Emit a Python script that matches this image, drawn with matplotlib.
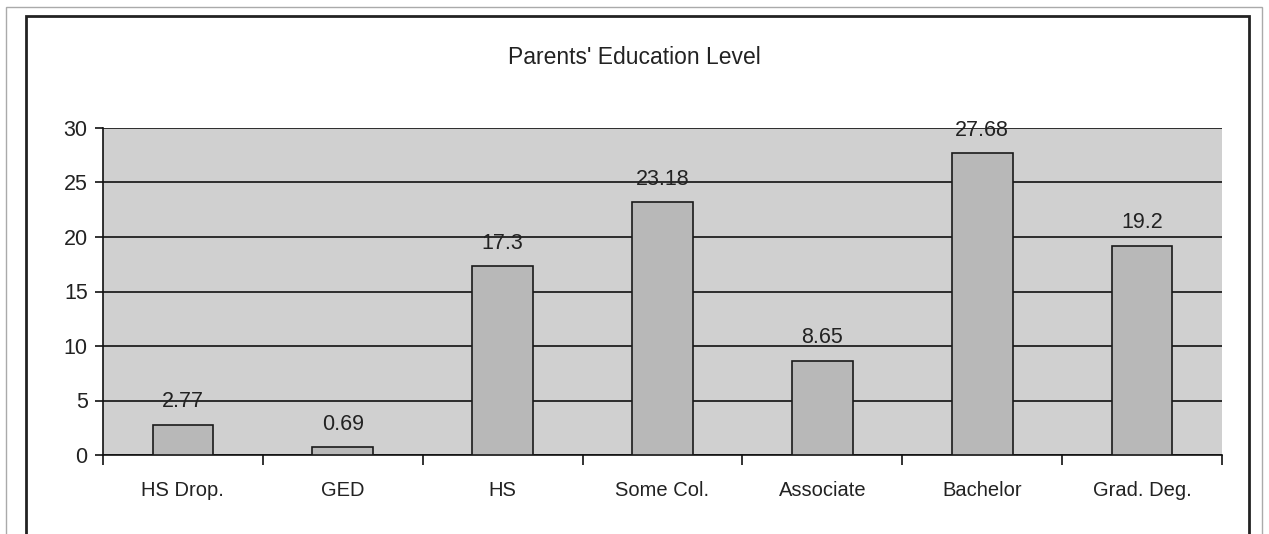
import matplotlib.pyplot as plt
import matplotlib.patches as patches
import numpy as np

plt.rcParams['font.family'] = ['Liberation Sans', 'DejaVu Sans']

categories = ['HS Drop.', 'GED', 'HS', 'Some Col.', 'Associate', 'Bachelor', 'Grad. Deg.']
values = [2.77, 0.69, 17.3, 23.18, 8.65, 27.68, 19.2]
labels = ['2.77', '0.69', '17.3', '23.18', '8.65', '27.68', '19.2']
yticks = [0, 5, 10, 15, 20, 25, 30]

fig = plt.figure(figsize=(12.69, 5.34), dpi=100)
fig.patch.set_facecolor('white')

# chart border (Excel style)
fig.patches.append(patches.Rectangle((26 / 1269, -0.05), (1249 - 26) / 1269, 1 - 16 / 534 + 0.05,
                                     transform=fig.transFigure, fill=False,
                                     edgecolor='#222222', linewidth=2))
fig.patches.append(patches.Rectangle((6 / 1269, -0.05), (1262 - 6) / 1269, 1 - 7 / 534 + 0.05,
                                     transform=fig.transFigure, fill=False,
                                     edgecolor='#aaaaaa', linewidth=1))

ax = fig.add_axes([103 / 1269, 1 - 455 / 534, (1222 - 103) / 1269, (455 - 128) / 534])
ax.set_facecolor('#d0d0d0')

x = np.arange(len(categories))
ax.bar(x, values, width=0.38, color='#b8b8b8', edgecolor='#1a1a1a', linewidth=1.2, zorder=3)

# value labels above the bars
for xi, v, lab in zip(x, values, labels):
    ax.annotate(lab, (xi, v), xytext=(0, 9), textcoords='offset points',
                ha='center', va='bottom', fontsize=15.5, color='#222222', zorder=4)

ax.set_xlim(-0.5, len(categories) - 0.5)
ax.set_ylim(0, 30)
ax.set_yticks(yticks)
ax.set_yticklabels([str(t) for t in yticks], fontsize=15.5, color='#222222')
ax.grid(axis='y', color='#111111', linewidth=1.2, zorder=1)
ax.set_axisbelow(True)

ax.set_xticks(x)
ax.set_xticklabels(categories, fontsize=14.5, color='#222222')
ax.tick_params(axis='x', length=0, pad=19)
ax.set_xticks(np.arange(-0.5, len(categories)), minor=True)
ax.tick_params(axis='x', which='minor', length=7, width=1.2, direction='out', color='#111111')
ax.tick_params(axis='y', length=6, width=1.2, direction='out', color='#111111', pad=5)

for s in ['top', 'right']:
    ax.spines[s].set_visible(False)
ax.spines['left'].set_color('#111111')
ax.spines['left'].set_linewidth(1.2)
ax.spines['bottom'].set_color('#111111')
ax.spines['bottom'].set_linewidth(1.2)

fig.text(0.5, 1 - 58 / 534, "Parents' Education Level", ha='center', va='center',
         fontsize=16.5, color='#222222')

fig.savefig('out.png', dpi=100)
